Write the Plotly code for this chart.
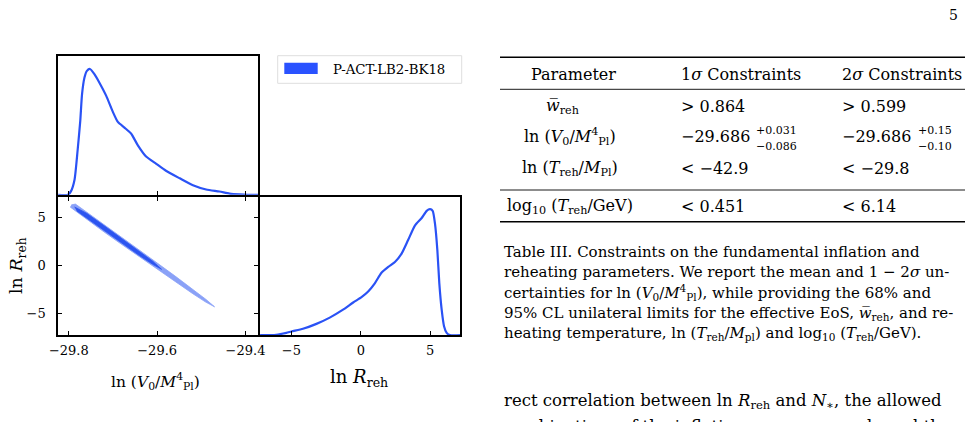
import plotly.graph_objects as go

W, H = 972, 422

# ---------------- data ----------------
# 1D marginal of ln(V0/M_Pl^4)
lnV0_grid = [-29.826, -29.802, -29.795, -29.787, -29.780, -29.774, -29.770, -29.7645,
             -29.759, -29.752, -29.742, -29.731, -29.7155, -29.700, -29.689, -29.674,
             -29.659, -29.644, -29.625, -29.602, -29.580, -29.549, -29.519, -29.489,
             -29.459, -29.436, -29.413, -29.395, -29.369]
lnV0_pdf = [0, 0, 0.029, 0.12, 0.356, 0.59, 0.80, 0.932, 0.985, 1.0, 0.959, 0.893,
            0.788, 0.657, 0.579, 0.534, 0.487, 0.395, 0.304, 0.246, 0.191, 0.131,
            0.076, 0.042, 0.026, 0.010, 0.003, 0, 0]

# 1D marginal of ln R_reh
lnR_grid = [-7.35, -6.1, -5.37, -5.0, -4.17, -3.20, -2.24, -1.28, -0.55, 0.05, 0.53,
            1.01, 1.49, 1.98, 2.46, 2.94, 3.42, 3.90, 4.39, 4.75, 4.99, 5.18, 5.35,
            5.52, 5.66, 5.83, 6.0, 6.19, 6.43, 7.27]
lnR_pdf = [0, 0.003, 0.018, 0.029, 0.05, 0.089, 0.139, 0.202, 0.259, 0.301, 0.346,
           0.411, 0.495, 0.542, 0.581, 0.647, 0.757, 0.870, 0.930, 0.987, 1.0, 0.987,
           0.883, 0.673, 0.411, 0.202, 0.071, 0.018, 0, 0]

# 2D contours (95% outer, 68% inner) outlines in (lnV0, lnR)
outer_v = [-29.794, -29.785, -29.76, -29.72, -29.68, -29.64, -29.60, -29.56, -29.52,
           -29.49, -29.470, -29.49, -29.52, -29.56, -29.60, -29.64, -29.68, -29.72,
           -29.76, -29.785, -29.797]
outer_r = [6.32, 6.40, 5.58, 4.27, 2.93, 1.60, 0.26, -1.08, -2.46, -3.52, -4.31,
           -3.82, -2.92, -1.66, -0.39, 0.90, 2.19, 3.49, 4.80, 5.62, 6.10]
inner_v = [-29.787, -29.76, -29.72, -29.68, -29.64, -29.61, -29.590, -29.61, -29.64,
           -29.68, -29.72, -29.76, -29.782]
inner_r = [6.10, 5.45, 4.14, 2.82, 1.49, 0.44, -0.40, 0.12, 1.03, 2.33, 3.65, 4.95, 5.68]

lnV0_ticks = [-29.8, -29.6, -29.4]
lnV0_ticklabels = ["\u221229.8", "\u221229.6", "\u221229.4"]
lnR_ticks = [-5, 0, 5]
lnR_ticklabels = ["\u22125", "0", "5"]

legend_label = "P-ACT-LB2-BK18"

# table
table_header = ["Parameter", "1<i>\u03c3</i> Constraints", "2<i>\u03c3</i> Constraints"]
table_params = ["<i>w\u0305</i><sub>reh</sub>",
                "ln (<i>V</i><sub>0</sub>/<i>M</i><sup>4</sup><sub>Pl</sub>)",
                "ln (<i>T</i><sub>reh</sub>/<i>M</i><sub>Pl</sub>)",
                "log<sub>10</sub> (<i>T</i><sub>reh</sub>/GeV)"]
table_1sigma = ["> 0.864", "\u221229.686", "< \u221242.9", "< 0.451"]
table_1sigma_up = ["", "+0.031", "", ""]
table_1sigma_dn = ["", "\u22120.086", "", ""]
table_2sigma = ["> 0.599", "\u221229.686", "< \u221229.8", "< 6.14"]
table_2sigma_up = ["", "+0.15", "", ""]
table_2sigma_dn = ["", "\u22120.10", "", ""]

caption_lines = [
    "Table III. Constraints on the fundamental inflation and",
    "reheating parameters. We report the mean and 1 \u2212 2<i>\u03c3</i> un-",
    "certainties for ln (<i>V</i><sub>0</sub>/<i>M</i><sup>4</sup><sub>Pl</sub>), while providing the 68% and",
    "95% CL unilateral limits for the effective EoS, <i>w\u0305</i><sub>reh</sub>, and re-",
    "heating temperature, ln (<i>T</i><sub>reh</sub>/<i>M</i><sub>pl</sub>) and log<sub>10</sub> (<i>T</i><sub>reh</sub>/GeV).",
]
body_lines = [
    "rect correlation between ln <i>R</i><sub>reh</sub> and <i>N</i><sub>\u2217</sub>, the allowed",
    "combinations of the inflationary energy scale and the",
]

# ---------------- styling ----------------
FONT = "DejaVu Serif"
BLUE_LINE = "rgb(42,82,245)"
BLUE_PATCH = "rgb(42,82,255)"
BLUE_DARK = "rgb(44,84,240)"
BLUE_LIGHT = "rgb(138,161,247)"
LW = 1.8


def px(x):
    return x / W


def py(y):
    return 1 - y / H


# centres of the frame lines (pixels)
X0, X1, X2 = 57.3, 259.2, 461.3
Y0, Y1, Y2 = 55.5, 195.7, 336.0
h = LW / 2  # plotly draws axis lines just outside the domain

dom_xl = [px(X0 + h), px(X1 - h)]
dom_xr = [px(X1 + h), px(X2 - h)]
dom_yt = [py(Y1 - h), py(Y0 + h)]
dom_yb = [py(Y2 - h), py(Y1 + h)]

fig = go.Figure()

fig.add_trace(go.Scatter(x=lnV0_grid, y=lnV0_pdf, mode="lines", line=dict(color=BLUE_LINE, width=2.2, shape="spline", smoothing=0.6),
                         xaxis="x", yaxis="y", showlegend=False, hoverinfo="skip"))
fig.add_trace(go.Scatter(x=outer_v, y=outer_r, mode="lines", fill="toself", fillcolor=BLUE_LIGHT,
                         line=dict(color=BLUE_LIGHT, width=0.8), xaxis="x2", yaxis="y2", showlegend=False, hoverinfo="skip"))
fig.add_trace(go.Scatter(x=inner_v, y=inner_r, mode="lines", fill="toself", fillcolor=BLUE_DARK,
                         line=dict(color=BLUE_DARK, width=0.8), xaxis="x2", yaxis="y2", showlegend=False, hoverinfo="skip"))
fig.add_trace(go.Scatter(x=lnR_grid, y=lnR_pdf, mode="lines", line=dict(color=BLUE_LINE, width=2.2, shape="spline", smoothing=0.6),
                         xaxis="x3", yaxis="y3", showlegend=False, hoverinfo="skip"))

axis_common = dict(showgrid=False, zeroline=False, showline=True, linecolor="black", linewidth=LW,
                   tickfont=dict(family=FONT, size=13, color="black"), tickcolor="black",
                   ticklen=4, tickwidth=1.2, automargin=False)

vrange = [-29.824, -29.371]
rrange = [-7.26, 7.18]

fig.update_layout(
    width=W, height=H, margin=dict(l=0, r=0, t=0, b=0, autoexpand=False),
    paper_bgcolor="white", plot_bgcolor="white",
    xaxis=dict(axis_common, domain=dom_xl, range=vrange, anchor="y", ticks="inside",
               tickvals=lnV0_ticks, showticklabels=False, mirror=True),
    yaxis=dict(axis_common, domain=dom_yt, range=[0, 1.1], anchor="x", ticks="",
               showticklabels=False, mirror=True),
    xaxis2=dict(axis_common, domain=dom_xl, range=vrange, anchor="y2", ticks="inside",
                tickvals=lnV0_ticks, ticktext=lnV0_ticklabels, mirror="allticks", ticklabelstandoff=2),
    yaxis2=dict(axis_common, domain=dom_yb, range=rrange, anchor="x2", ticks="inside",
                tickvals=lnR_ticks, ticktext=lnR_ticklabels, mirror="allticks", ticklabelstandoff=8),
    xaxis3=dict(axis_common, domain=dom_xr, range=rrange, anchor="y3", ticks="inside",
                tickvals=lnR_ticks, ticktext=lnR_ticklabels, mirror=True, ticklabelstandoff=2),
    yaxis3=dict(axis_common, domain=dom_yb, range=[0, 1.1], anchor="x3", ticks="",
                showticklabels=False, mirror=True),
)

shapes = []
annotations = []


def text(s, x, y, size, xanchor="center", yanchor="middle", angle=0):
    annotations.append(dict(text=s, x=px(x), y=py(y), xref="paper", yref="paper", showarrow=False,
                            xanchor=xanchor, yanchor=yanchor, textangle=angle,
                            font=dict(family=FONT, size=size, color="black")))


# axis titles
text("ln (<i>V</i><sub>0</sub>/<i>M</i><sup>4</sup><sub>Pl</sub>)", 155, 381, 15.5)
text("ln <i>R</i><sub>reh</sub>", 359, 378, 18)
text("ln <i>R</i><sub>reh</sub>", 17, 266, 17.5, angle=-90)

# legend box
shapes.append(dict(type="rect", xref="paper", yref="paper", x0=px(277.7), x1=px(461.7), y0=py(83.3), y1=py(55.7),
                   line=dict(color="rgb(222,222,222)", width=1), fillcolor="white"))
shapes.append(dict(type="rect", xref="paper", yref="paper", x0=px(284.3), x1=px(317.7), y0=py(74), y1=py(62.7),
                   line=dict(width=0), fillcolor=BLUE_PATCH))
text(legend_label, 331, 69.3, 13.3, xanchor="left")

# table rules
for yy, lw in [(57.3, 1.4), (89.3, 0.9), (190.0, 0.9), (221.7, 1.4)]:
    shapes.append(dict(type="line", xref="paper", yref="paper", x0=px(500), x1=px(965), y0=py(yy), y1=py(yy),
                       line=dict(color="black", width=lw)))

TS = 16
COL1 = 570
text(table_header[0], COL1 + 3, 74.3, TS)
text(table_header[1], 679, 74.3, TS, xanchor="left")
text(table_header[2], 840, 74.3, TS, xanchor="left")
row_y = [106.7, 136.7, 168.3, 206.7]
for i, yy in enumerate(row_y):
    text(table_params[i], COL1 - (8 if i == 0 else 0), yy, TS)
    text(table_1sigma[i], 679, yy, TS, xanchor="left")
    text(table_2sigma[i], 840, yy, TS, xanchor="left")
    if table_1sigma_up[i]:
        text(table_1sigma_up[i], 754, yy - 6, 11, xanchor="left")
        text(table_1sigma_dn[i], 754, yy + 9.5, 11, xanchor="left")
    if table_2sigma_up[i]:
        text(table_2sigma_up[i], 916, yy - 6, 11, xanchor="left")
        text(table_2sigma_dn[i], 916, yy + 9.5, 11, xanchor="left")

# caption
CS = 15
cap_y = [251.7, 272.0, 292.5, 313.0, 333.3]
for s, yy in zip(caption_lines, cap_y):
    text(s, 501.5, yy, CS, xanchor="left")

BS = 16.5
body_y = [401.7, 426.0]
for s, yy in zip(body_lines, body_y):
    text(s, 501.5, yy, BS, xanchor="left")

# page number
text("5", 953, 15, 14)

fig.update_layout(shapes=shapes, annotations=annotations)

fig.write_html("out.html")
